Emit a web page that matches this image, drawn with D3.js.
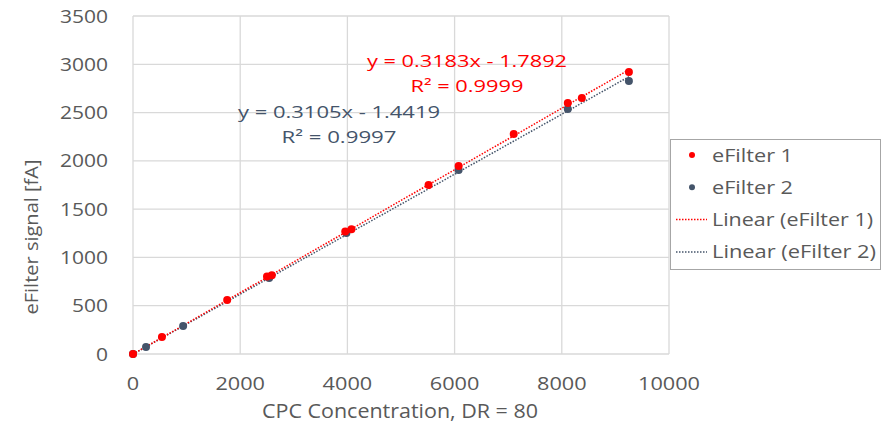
<!DOCTYPE html>
<html>
<head>
<meta charset="utf-8">
<script src="https://cdn.jsdelivr.net/npm/d3@7"></script>
<style>
  body { margin: 0; background: #fff; }
  text { font-family: 'Open Sans', sans-serif; }
</style>
</head>
<body>
<svg id="chart" width="881" height="423"></svg>
<script>
// eFilter 1 (red) points
var filter1X = [0, 540, 1757, 2500, 2590, 3960, 4075, 5514, 6075, 7103, 8112, 8374, 9252];
var filter1Y = [0, 176, 559, 803, 815, 1268, 1292, 1750, 1947, 2278, 2599, 2651, 2920];

// eFilter 2 (navy) points
var filter2X = [0, 243, 935, 2540, 3981, 6075, 8112, 9252];
var filter2Y = [0, 72, 290, 787, 1253, 1905, 2537, 2827];

// linear fits shown on the chart
var fitSlopes = [0.3183, 0.3105];
var fitIntercepts = [-1.7892, -1.4419];
var fitLabels = [['y = 0.3183x - 1.7892', 'R² = 0.9999'], ['y = 0.3105x - 1.4419', 'R² = 0.9997']];

var xTicks = [0, 2000, 4000, 6000, 8000, 10000];
var yTicks = [0, 500, 1000, 1500, 2000, 2500, 3000, 3500];
var legendLabels = ['eFilter 1', 'eFilter 2', 'Linear (eFilter 1)', 'Linear (eFilter 2)'];

var red = '#ff0000';
var navy = '#44546a';
var grey = '#595959';

var svg = d3.select('#chart');

var x = d3.scaleLinear().domain([0, 10000]).range([133, 669]);
var y = d3.scaleLinear().domain([0, 3500]).range([354, 16]);

// gridlines
svg.append('g').selectAll('line.v')
    .data(xTicks)
    .enter().append('line')
    .attr('x1', function (d) { return x(d); })
    .attr('x2', function (d) { return x(d); })
    .attr('y1', y(0))
    .attr('y2', y(3500))
    .style('stroke', '#d9d9d9')
    .style('stroke-width', 1.3);

svg.append('g').selectAll('line.h')
    .data(yTicks)
    .enter().append('line')
    .attr('x1', x(0))
    .attr('x2', x(10000))
    .attr('y1', function (d) { return y(d); })
    .attr('y2', function (d) { return y(d); })
    .style('stroke', '#d9d9d9')
    .style('stroke-width', 1.3);

// tick labels (width stretched to match the reference)
svg.append('g').selectAll('text')
    .data(yTicks)
    .enter().append('text')
    .attr('x', 108)
    .attr('y', function (d) { return y(d) + 6.5; })
    .attr('text-anchor', 'end')
    .attr('textLength', function (d) { return String(d).length * 12; })
    .attr('lengthAdjust', 'spacingAndGlyphs')
    .style('font-size', '18px')
    .style('fill', grey)
    .text(function (d) { return d; });

svg.append('g').selectAll('text')
    .data(xTicks)
    .enter().append('text')
    .attr('x', function (d) { return x(d); })
    .attr('y', 390)
    .attr('text-anchor', 'middle')
    .attr('textLength', function (d) { return String(d).length * 12.4; })
    .attr('lengthAdjust', 'spacingAndGlyphs')
    .style('font-size', '18px')
    .style('fill', grey)
    .text(function (d) { return d; });

// axis titles
svg.append('text')
    .attr('x', 400)
    .attr('y', 418)
    .attr('text-anchor', 'middle')
    .attr('textLength', 276)
    .attr('lengthAdjust', 'spacingAndGlyphs')
    .style('font-size', '20px')
    .style('fill', grey)
    .text('CPC Concentration, DR = 80');

svg.append('text')
    .attr('transform', 'translate(38,237) rotate(-90)')
    .attr('text-anchor', 'middle')
    .attr('textLength', 155)
    .attr('lengthAdjust', 'spacingAndGlyphs')
    .style('font-size', '18px')
    .style('fill', grey)
    .text('eFilter signal [fA]');

// trendlines
var colors = [red, navy];
var maxX = [d3.max(filter1X), d3.max(filter2X)];
[1, 0].forEach(function (i) {
    svg.append('line')
        .attr('x1', x(0))
        .attr('y1', y(fitIntercepts[i]))
        .attr('x2', x(maxX[i]))
        .attr('y2', y(fitSlopes[i] * maxX[i] + fitIntercepts[i]))
        .style('stroke', colors[i])
        .style('stroke-width', 1.5)
        .style('stroke-dasharray', '1.5,1.5');
});

// points: navy first, red on top
function drawPoints(xs, ys, color) {
    svg.append('g').selectAll('circle')
        .data(d3.zip(xs, ys))
        .enter().append('circle')
        .attr('cx', function (d) { return x(d[0]); })
        .attr('cy', function (d) { return y(d[1]); })
        .attr('r', 4)
        .style('fill', color);
}
drawPoints(filter2X, filter2Y, navy);
drawPoints(filter1X, filter1Y, red);

// equation labels
var eqPos = [[467, 67, 200, 113], [339, 118, 202, 115]];
fitLabels.forEach(function (lines, i) {
    var p = eqPos[i];
    svg.append('text')
        .attr('x', p[0]).attr('y', p[1])
        .attr('text-anchor', 'middle')
        .attr('textLength', p[2])
        .attr('lengthAdjust', 'spacingAndGlyphs')
        .style('font-size', '17px')
        .style('fill', colors[i])
        .text(lines[0]);
    svg.append('text')
        .attr('x', p[0]).attr('y', p[1] + 25)
        .attr('text-anchor', 'middle')
        .attr('textLength', p[3])
        .attr('lengthAdjust', 'spacingAndGlyphs')
        .style('font-size', '17px')
        .style('fill', colors[i])
        .text(lines[1]);
});

// legend
var legend = svg.append('g');
legend.append('rect')
    .attr('x', 670.5)
    .attr('y', 139.5)
    .attr('width', 210)
    .attr('height', 130)
    .style('fill', '#fff')
    .style('stroke', '#a6a6a6')
    .style('stroke-width', 1);

var legendWidths = [81, 81, 161, 164];
legendLabels.forEach(function (label, i) {
    var cy = 155 + i * 32.3;
    if (i < 2) {
        legend.append('circle')
            .attr('cx', 692).attr('cy', cy)
            .attr('r', 3)
            .style('fill', colors[i]);
    } else {
        legend.append('line')
            .attr('x1', 676).attr('x2', 707)
            .attr('y1', cy).attr('y2', cy)
            .style('stroke', colors[i - 2])
            .style('stroke-width', 1.5)
            .style('stroke-dasharray', '1.5,1.5');
    }
    legend.append('text')
        .attr('x', 712)
        .attr('y', cy + 6.5)
        .attr('textLength', legendWidths[i])
        .attr('lengthAdjust', 'spacingAndGlyphs')
        .style('font-size', '18px')
        .style('fill', grey)
        .text(label);
});
</script>
</body>
</html>
